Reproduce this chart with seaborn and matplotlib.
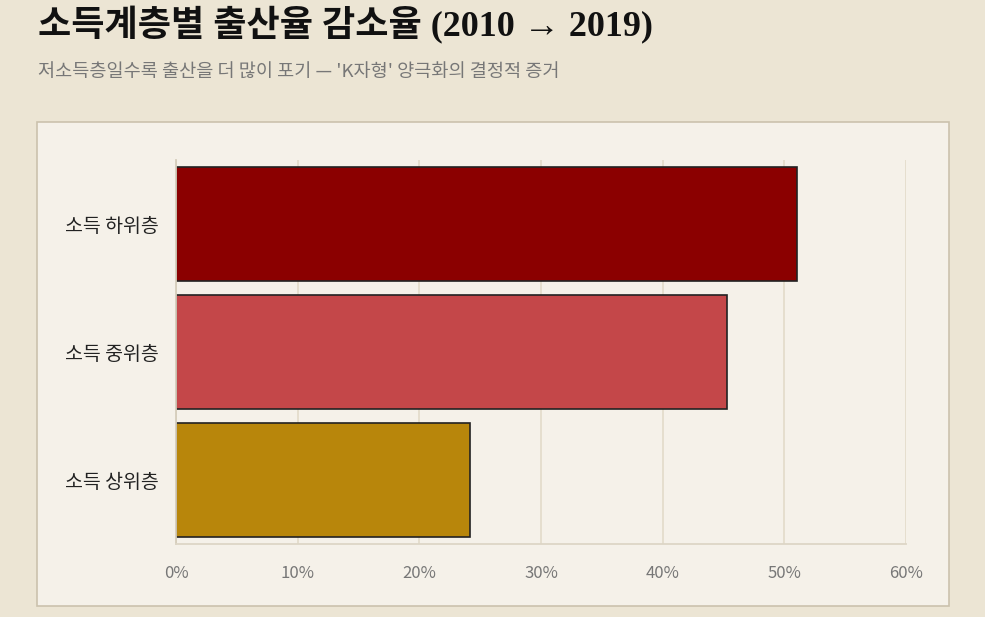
import matplotlib
matplotlib.use("Agg")
import matplotlib.pyplot as plt
from matplotlib.patches import Rectangle
import seaborn as sns
import pandas as pd

# data
groups = ['소득 하위층', '소득 중위층', '소득 상위층']
decline = [51.0, 45.3, 24.2]
bar_colors = ['#8b0000', '#c44749', '#b8860b']
xticks = [0, 10, 20, 30, 40, 50, 60]

df = pd.DataFrame({'group': groups, 'decline': decline})

sns.set_theme(style='white')
plt.rcParams['font.family'] = ['Noto Sans CJK KR', 'DejaVu Sans']

bg = '#ece5d4'
panel = '#f5f1e9'

fig = plt.figure(figsize=(9.85, 6.17), dpi=100, facecolor=bg)

# panel behind the plot
fig.patches.append(Rectangle((37 / 985, 1 - 606 / 617), (949 - 37) / 985, (606 - 122) / 617,
                             transform=fig.transFigure, facecolor=panel,
                             edgecolor='#cbc2ad', linewidth=1.2, zorder=-5))

ax = fig.add_axes([176 / 985, 1 - 544 / 617, (906 - 176) / 985, (544 - 160) / 617])
ax.set_facecolor('none')
ax.set_zorder(2)

sns.barplot(data=df, y='group', x='decline', hue='group', palette=bar_colors,
            saturation=1, width=0.89, edgecolor='#222222', linewidth=1.2,
            legend=False, ax=ax)

ax.set_xlim(0, 60)
ax.set_ylim(2.5, -0.5)
ax.set_xticks(xticks)
ax.set_xticklabels([f'{t}%' for t in xticks])
ax.set_xlabel('')
ax.set_ylabel('')

ax.grid(axis='x', color='#e4ddcc', linewidth=1.3)
ax.set_axisbelow(True)
for s in ['top', 'right']:
    ax.spines[s].set_visible(False)
ax.spines['left'].set_color('#d5cdbb')
ax.spines['bottom'].set_color('#ddd6c6')
ax.spines['left'].set_linewidth(1.3)
ax.spines['bottom'].set_linewidth(1.3)

ax.tick_params(axis='x', length=9, width=1.2, colors='#e0d9c8', labelcolor='#777777',
               labelsize=12, pad=6)
ax.tick_params(axis='y', length=0, labelsize=14, labelcolor='#222222', pad=12.5)

fig.text(38 / 985, 1 - 25 / 617, '소득계층별 출산율 감소율 (2010 → 2019)',
         fontsize=26, fontweight='bold', color='#111111', va='center',
         family=['Liberation Serif', 'Noto Sans CJK KR'])
fig.text(38 / 985, 1 - 72 / 617, "저소득층일수록 출산을 더 많이 포기 — 'K자형' 양극화의 결정적 증거",
         fontsize=13.4, color='#777777', va='center')

fig.savefig('out.png', dpi=100, facecolor=bg)
